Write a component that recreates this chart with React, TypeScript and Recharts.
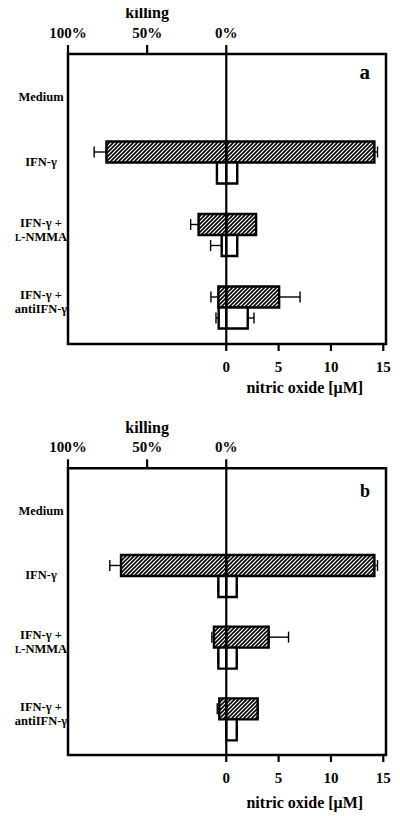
import React from 'react';
import { BarChart, Bar, XAxis, YAxis, ReferenceLine, ReferenceArea, ErrorBar, Label } from 'recharts';

// ---------- data ----------
const categories = ['Medium', 'IFN-γ', 'IFN-γ + L-NMMA', 'IFN-γ + antiIFN-γ'];
const categoryLines: string[][] = [['Medium'], ['IFN-γ'], ['IFN-γ +', 'L-NMMA'], ['IFN-γ +', 'antiIFN-γ']];
const noTicks = [0, 5, 10, 15];
const killingTicks = [100, 50, 0];

// panel a : hatched bars
const aHatchKill = [0, 75.7, 17.5, 5.0];
const aHatchKillErr = [0, 7.8, 5.0, 4.7];
const aHatchNO = [0, 14.15, 2.85, 5.05];
const aHatchNOErr = [0, 0.3, 0, 2.0];
// panel a : open bars
const aOpenKill = [0, 5.9, 2.9, 4.8];
const aOpenKillErr = [0, 0, 7.0, 1.7];
const aOpenNO = [0, 1.05, 1.05, 2.05];
const aOpenNOErr = [0, 0, 0, 0.6];

// panel b : hatched bars
const bHatchKill = [0, 66.5, 7.8, 4.4];
const bHatchKillErr = [0, 7.1, 1.3, 1.3];
const bHatchNO = [0, 14.15, 4.05, 3.0];
const bHatchNOErr = [0, 0.3, 1.9, 0];
// panel b : open bars
const bOpenKill = [0, 5.0, 5.0, 0];
const bOpenKillErr = [0, 0, 0, 0];
const bOpenNO = [0, 1.0, 1.0, 1.0];
const bOpenNOErr = [0, 0, 0, 0];

// ---------- scales ----------
const KILL_FULL = 15.12; // 100 % killing drawn at the same length as 15.12 µM
const KILL_UNIT = KILL_FULL / 100;
const DMIN = -100 * KILL_UNIT;
const DMAX = 15.26;
const DOMAIN: [number, number] = [DMIN, DMAX];
const killTickValues = killingTicks.map((k) => -k * KILL_UNIT);

const FONT = "'Liberation Serif', 'Times New Roman', serif";

function buildRows(
  hK: number[], hKE: number[], hN: number[], hNE: number[],
  oK: number[], oKE: number[], oN: number[], oNE: number[]
) {
  return categories.map((cat, i) => ({
    cat,
    hK: -hK[i] * KILL_UNIT,
    hKErr: [hKE[i] * KILL_UNIT, 0],
    hN: hN[i],
    hNErr: [0, hNE[i]],
    oK: -oK[i] * KILL_UNIT,
    oKErr: [oKE[i] * KILL_UNIT, 0],
    oN: oN[i],
    oNErr: [0, oNE[i]],
  }));
}

const rowsA = buildRows(aHatchKill, aHatchKillErr, aHatchNO, aHatchNOErr, aOpenKill, aOpenKillErr, aOpenNO, aOpenNOErr);
const rowsB = buildRows(bHatchKill, bHatchKillErr, bHatchNO, bHatchNOErr, bOpenKill, bOpenKillErr, bOpenNO, bOpenNOErr);

function renderLine(ln: string) {
  if (ln.startsWith('L-')) {
    return [<tspan key="l" fontSize={9.5}>L</tspan>, <tspan key="r">{ln.slice(1)}</tspan>];
  }
  return ln;
}

function CatTick(props: any) {
  const { x, y, payload } = props;
  const idx = categories.indexOf(payload.value);
  const lines = categoryLines[idx] ?? [String(payload.value)];
  const cx = x - 27;
  const base = lines.length === 1 ? (idx === 0 ? 10.5 : 3.5) : -8.3;
  return (
    <text x={cx} y={y} textAnchor="middle" fontFamily={FONT} fontWeight="bold" fontSize={12.5} fill="#000">
      {lines.map((ln, i) => (
        <tspan key={i} x={cx} y={y + base + i * 14}>
          {renderLine(ln)}
        </tspan>
      ))}
    </text>
  );
}

const frac = (v: number) => (v - DMIN) / (DMAX - DMIN);

function Panel({ rows, letter, height, top, marginTop, marginBottom, titleGap, letterBase, letterSize }: any) {
  const hatchId = `hatch-${letter}`;
  const killMid = -((killingTicks[0] + killingTicks[killingTicks.length - 1]) / 2) * KILL_UNIT;
  const noMid = (noTicks[0] + noTicks[noTicks.length - 1]) / 2;

  const killTitle = (p: any) => {
    const vb = p.viewBox;
    if (!vb) return null;
    const cx = vb.x + frac(killMid) * vb.width;
    return (
      <text x={cx} y={vb.y + vb.height - 35.7} textAnchor="middle" fontFamily={FONT} fontWeight="bold" fontSize={16} fill="#000">
        killing
      </text>
    );
  };
  const noTitle = (p: any) => {
    const vb = p.viewBox;
    if (!vb) return null;
    const cx = vb.x + frac(noMid) * vb.width;
    return (
      <text x={cx} y={vb.y + titleGap} textAnchor="middle" fontFamily={FONT} fontWeight="bold" fontSize={16} fill="#000">
        nitric oxide [μM]
      </text>
    );
  };
  const letterContent = (p: any) => {
    const vb = p.viewBox;
    if (!vb) return null;
    return (
      <text x={vb.x + vb.width - 16} y={vb.y + letterBase} textAnchor="end" fontFamily={FONT} fontWeight="bold" fontSize={letterSize} fill="#000">
        {letter}
      </text>
    );
  };

  const tickStyle = { fill: '#000', fontSize: 15, fontWeight: 'bold', fontFamily: FONT };

  return (
    <div style={{ position: 'absolute', left: 0, top }}>
      <BarChart
        layout="vertical"
        width={400}
        height={height}
        data={rows}
        margin={{ top: marginTop, right: 14, bottom: marginBottom, left: 0 }}
        barGap={0}
        barCategoryGap={0}
        stackOffset="sign"
      >
        <defs>
          <pattern id={hatchId} patternUnits="userSpaceOnUse" width={4} height={4}>
            <rect x={0} y={0} width={4} height={4} fill="#fff" />
            <path d="M-1,1 L1,-1 M0,4 L4,0 M3,5 L5,3" stroke="#000" strokeWidth={1.6} />
          </pattern>
        </defs>
        <XAxis
          xAxisId="top"
          orientation="top"
          type="number"
          domain={DOMAIN}
          allowDataOverflow
          ticks={killTickValues}
          interval={0}
          tickFormatter={(v: number) => `${Math.abs(Math.round(-v / KILL_UNIT))}%`}
          height={30}
          tickSize={9}
          tickMargin={7}
          axisLine={false}
          tickLine={{ stroke: '#000', strokeWidth: 2.2 }}
          tick={tickStyle}
        >
          <Label content={killTitle} />
        </XAxis>
        <XAxis
          xAxisId="bottom"
          orientation="bottom"
          type="number"
          domain={DOMAIN}
          allowDataOverflow
          ticks={noTicks}
          interval={0}
          height={56}
          tickSize={7}
          tickMargin={10}
          axisLine={false}
          tickLine={{ stroke: '#000', strokeWidth: 2.2 }}
          tick={tickStyle}
        >
          <Label content={noTitle} />
        </XAxis>
        <YAxis
          type="category"
          dataKey="cat"
          width={68}
          axisLine={false}
          tickLine={false}
          tickSize={0}
          tickMargin={0}
          interval={0}
          tick={<CatTick />}
        />
        <ReferenceArea xAxisId="bottom" x1={DMIN} x2={DMAX} fill="none" fillOpacity={0} stroke="#000" strokeWidth={2.5} ifOverflow="visible">
          <Label content={letterContent} />
        </ReferenceArea>
        <Bar xAxisId="bottom" dataKey="hK" stackId="h" fill={`url(#${hatchId})`} stroke="#000" strokeWidth={2.4} barSize={21} isAnimationActive={false}>
          <ErrorBar dataKey="hKErr" direction="x" width={5.5} stroke="#000" strokeWidth={1.4} />
        </Bar>
        <Bar xAxisId="bottom" dataKey="hN" stackId="h" fill={`url(#${hatchId})`} stroke="#000" strokeWidth={2.4} barSize={21} isAnimationActive={false}>
          <ErrorBar dataKey="hNErr" direction="x" width={5.5} stroke="#000" strokeWidth={1.4} />
        </Bar>
        <Bar xAxisId="bottom" dataKey="oK" stackId="o" fill="#fff" stroke="#000" strokeWidth={2.4} barSize={21} isAnimationActive={false}>
          <ErrorBar dataKey="oKErr" direction="x" width={5.5} stroke="#000" strokeWidth={1.4} />
        </Bar>
        <Bar xAxisId="bottom" dataKey="oN" stackId="o" fill="#fff" stroke="#000" strokeWidth={2.4} barSize={21} isAnimationActive={false}>
          <ErrorBar dataKey="oNErr" direction="x" width={5.5} stroke="#000" strokeWidth={1.4} />
        </Bar>
        <ReferenceLine xAxisId="bottom" x={0} stroke="#000" strokeWidth={2.2} ifOverflow="visible" />
      </BarChart>
    </div>
  );
}

export default function App() {
  return (
    <div style={{ position: 'relative', width: 400, height: 816 }}>
      <div style={{ position: 'absolute', left: -8, top: -8, width: 400, height: 816, background: '#fff' }}>
        <Panel rows={rowsA} letter="a" height={400} top={0} marginTop={24} marginBottom={0} titleGap={49.3} letterBase={25.3} letterSize={21} />
        <Panel rows={rowsB} letter="b" height={406} top={410} marginTop={28.3} marginBottom={5} titleGap={53.3} letterBase={28.4} letterSize={18} />
      </div>
    </div>
  );
}
